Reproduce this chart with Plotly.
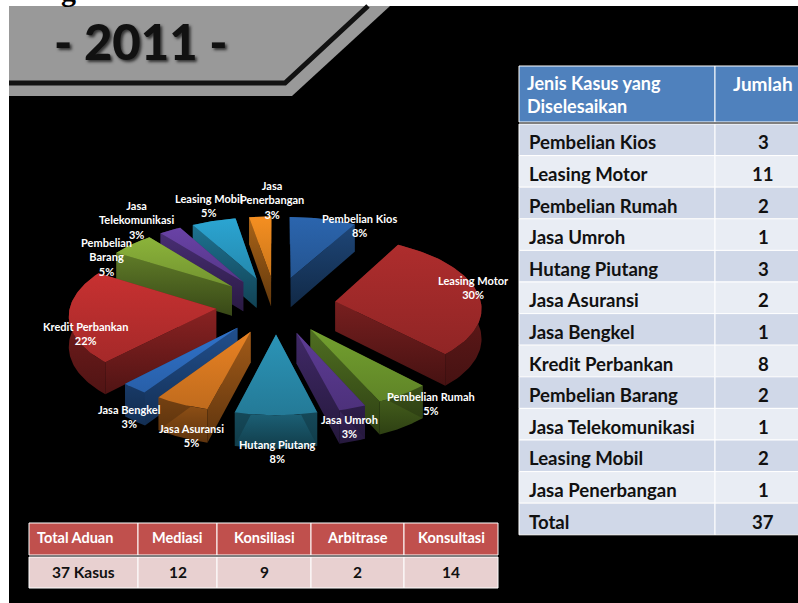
import numpy as np
import plotly.graph_objects as go

# kasus per jenis, clockwise from 12 o'clock
categories = ['Pembelian Kios', 'Leasing Motor', 'Pembelian Rumah', 'Jasa Umroh', 'Hutang Piutang', 'Jasa Asuransi',
              'Jasa Bengkel', 'Kredit Perbankan', 'Pembelian Barang', 'Jasa Telekomunikasi', 'Leasing Mobil', 'Jasa Penerbangan']
jumlah = [3, 11, 2, 1, 3, 2, 1, 8, 2, 1, 2, 1]
pie_names = ['Pembelian Kios', 'Leasing Motor', 'Pembelian Rumah', 'Jasa Umroh', 'Hutang Piutang', 'Jasa Asuransi',
             'Jasa Bengkel', 'Kredit Perbankan', 'Pembelian<br>Barang', 'Jasa<br>Telekomunikasi', 'Leasing Mobil', 'Jasa<br>Penerbangan']
slice_colors = ['#2a62a8', '#a82c2c', '#6f9a2e', '#5a3a90', '#2a8fb0', '#e07d22',
                '#2f6fc4', '#c03030', '#86ad38', '#6540a0', '#2a9fca', '#ec8a20']

summary_head = ['Total Aduan', 'Mediasi', 'Konsiliasi', 'Arbitrase', 'Konsultasi']
summary_vals = ['37 Kasus', '12', '9', '2', '14']

# label anchors in page pixels
label_pos = [(359, 225), (473, 287), (431, 403), (349, 426), (277, 451), (191, 435),
             (129, 416), (85, 333), (106, 257), (136, 220), (209, 205), (272, 200)]

# pie geometry
CX, CY = 276, 305
R, PULL, K, DEPTH, PERSP = 146, 60, 0.477, 30, 0.000525


def project(x, y, z=0):
    f = 1 / (1 - PERSP * y)
    return CX + x * f, CY + (y * K + z) * f


def shade(hex_color, t):
    r, g, b = [int(hex_color[i:i + 2], 16) for i in (1, 3, 5)]
    return f'rgb({int(r * t)},{int(g * t)},{int(b * t)})'


def face(xs, ys, top, bottom):
    # plotly puts colorscale 0 at the bottom of a vertical gradient
    return go.Scatter(x=xs, y=ys, mode='lines', fill='toself', line=dict(width=0), hoverinfo='skip',
                      fillgradient=dict(type='vertical', colorscale=[[0, bottom], [1, top]]))


fig = go.Figure()

ends = np.cumsum(jumlah) / sum(jumlah) * 2 * np.pi
starts = np.r_[0, ends[:-1]]
order = np.argsort([-np.cos((a + b) / 2) for a, b in zip(starts, ends)])

for i in order:
    mid = (starts[i] + ends[i]) / 2
    ax, ay = PULL * np.sin(mid), -PULL * np.cos(mid)
    th = np.linspace(starts[i], ends[i], 60)
    rim_x, rim_y = ax + R * np.sin(th), ay - R * np.cos(th)
    col = slice_colors[i]

    # outer wall
    px1, py1 = project(rim_x, rim_y)
    px2, py2 = project(rim_x, rim_y, DEPTH)
    fig.add_trace(face(np.r_[px1, px2[::-1], px1[0]], np.r_[py1, py2[::-1], py1[0]], shade(col, 0.68), shade(col, 0.42)))

    # the two cut walls, far one first
    for k in sorted((0, -1), key=lambda e: rim_y[e]):
        xs = np.array([ax, rim_x[k], rim_x[k], ax, ax])
        ys = np.array([ay, rim_y[k], rim_y[k], ay, ay])
        zs = np.array([0, 0, DEPTH, DEPTH, 0])
        qx, qy = project(xs, ys, zs)
        fig.add_trace(face(qx, qy, shade(col, 0.72), shade(col, 0.42)))

    tx, ty = project(np.r_[ax, rim_x, ax], np.r_[ay, rim_y, ay])
    fig.add_trace(face(tx, ty, shade(col, 1.04), shade(col, 0.86)))

for name, v, (lx, ly) in zip(pie_names, jumlah, label_pos):
    fig.add_annotation(x=lx, y=ly, text=f'<b>{name}<br>{round(v / sum(jumlah) * 100)}%</b>', showarrow=False,
                       font=dict(family='Lato', size=11, color='white'), align='center')

shapes = [
    dict(type='rect', x0=9, x1=798, y0=6, y1=603, fillcolor='black', line_width=0, layer='below'),
    dict(type='path', path='M9,6 L390,6 L292,96 L9,96 Z', fillcolor='#999999', line_width=0, layer='below'),
    dict(type='path', path='M9,83 L285,83 L368,6', line=dict(color='#111111', width=5), layer='below'),
]


def cell(x0, x1, y0, y1, fill, text, size, color, left=None, nudge=0):
    shapes.append(dict(type='rect', x0=x0, x1=x1, y0=y0, y1=y1, fillcolor=fill, line=dict(color='white', width=1), layer='below'))
    fig.add_annotation(x=(x0 + x1) / 2 if left is None else left, y=(y0 + y1) / 2 + nudge, text=f'<b>{text}</b>', showarrow=False, align='left' if left else 'center',
                       xanchor='center' if left is None else 'left', font=dict(family='Lato', size=size, color=color))


# kasus table, right side
cell(519, 715, 66, 122, '#4f81bd', 'Jenis Kasus yang<br>Diselesaikan', 18, 'white', left=525)
cell(715, 811, 66, 122, '#4f81bd', 'Jumlah', 19, 'white', nudge=-11)
names = categories + ['Total']
vals = jumlah + [sum(jumlah)]
for r, (c, v) in enumerate(zip(names, vals)):
    y0 = 124 + r * 31.6
    fill = '#d0d8e8' if r % 2 == 0 else '#e9edf4'
    cell(519, 715, y0, y0 + 31.6, fill, c, 18.6, '#111111', left=527, nudge=2.5)
    cell(715, 811, y0, y0 + 31.6, fill, v, 18.6, '#111111', nudge=2.5)

# ringkasan table, bottom
col_edges = [29, 138, 217, 311, 404, 498]
for j, (h, v) in enumerate(zip(summary_head, summary_vals)):
    cell(col_edges[j], col_edges[j + 1], 523, 555, '#c0504d', h, 14.5, 'white', left=35 if j == 0 else None, nudge=-1.5)
    cell(col_edges[j], col_edges[j + 1], 557, 588, '#e8d0d0', v, 15.5, '#111111', nudge=-0.5)

fig.add_annotation(x=141, y=41, text='- 2011 -', showarrow=False,
                   font=dict(family='Lato', size=49, weight=900, color='#111111', shadow='2px 2px 3px #333333'))
fig.add_annotation(xref='paper', yref='paper', x=68 / 798, y=1 + 10 / 603, xanchor='center', yanchor='middle', text='<b>g</b>', showarrow=False,
                   font=dict(family='Liberation Serif', size=30, color='black'))

fig.update_layout(
    width=798, height=603, margin=dict(l=0, r=0, t=0, b=0), showlegend=False,
    paper_bgcolor='white', plot_bgcolor='white',
    xaxis=dict(range=[0, 798], visible=False, fixedrange=True),
    yaxis=dict(range=[603, 0], visible=False, fixedrange=True),
    shapes=shapes,
)

fig.write_html('out.html', config=dict(displayModeBar=False),
               post_script="document.body.style.margin='0';document.body.style.overflow='hidden';"
                           "document.querySelectorAll('.scatterlayer').forEach(e=>e.style.filter='blur(0.7px)');")
